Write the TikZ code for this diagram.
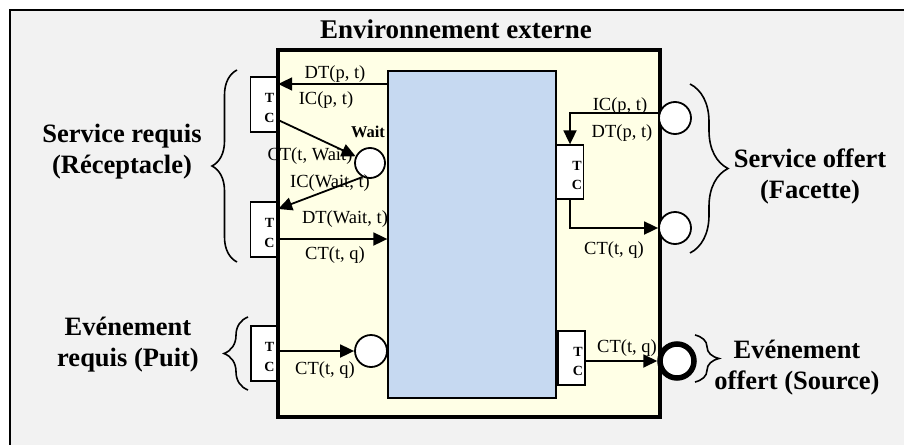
\documentclass[tikz,border=0pt]{standalone}
\usepackage{fontspec}
\setmainfont{Liberation Serif}
\usetikzlibrary{arrows.meta,decorations.pathreplacing}
\definecolor{bggrey}{HTML}{F2F2F2}
\definecolor{compyellow}{HTML}{FFFFE6}
\definecolor{compblue}{HTML}{C6D9F1}
\begin{document}
\begin{tikzpicture}[x=1pt,y=-1pt,
  conn/.style={line width=1.8pt,-{Triangle[length=14pt,width=13pt]}},
  lbl/.style={font=\fontsize{18.5}{20}\selectfont, inner sep=0pt, anchor=base},
  big/.style={font=\fontsize{26.5}{31}\selectfont\bfseries, align=center, inner sep=0pt},
  tcbox/.style={draw, line width=1.3pt, fill=white, minimum width=27pt, minimum height=55pt, inner sep=0pt},
  tctext/.style={font=\fontsize{14}{19.5}\selectfont\bfseries, align=center, inner sep=0pt},
  port/.style={circle, draw, fill=white, line width=1.8pt, inner sep=0pt, minimum size=32pt},
  brc/.style={decorate, decoration={brace, amplitude=#1}, line width=1.6pt},
]
\useasboundingbox (0,0) rectangle (904,444);
\clip (0,0) rectangle (904,444);
% outer environment frame
\draw[line width=2pt, fill=bggrey] (10,10) rectangle (912,452);
\node[font=\fontsize{27}{30}\selectfont\bfseries, inner sep=0pt, anchor=base] (title) at (456,39) {Environnement externe};

% left TC boxes (behind the component border)
\node[tcbox] (tcA) at (264,104.5) {};
\node[tcbox] (tcB) at (264,229.5) {};
\node[tcbox] (tcE) at (264.5,353.5) {};

% component
\node[draw, line width=3.5pt, fill=compyellow, minimum width=382pt, minimum height=367pt, inner sep=0pt] (comp) at (469,233.5) {};
\node[draw, line width=1.3pt, fill=compblue, minimum width=168pt, minimum height=327pt, inner sep=0pt] (blue) at (472,234.5) {};

% right TC boxes
\node[tcbox, minimum height=54pt] (tcD) at (570,172) {};
\node[tcbox, minimum height=54pt] (tcF) at (571.5,358) {};

% TC texts
\node[tctext] (tA) at ([xshift=5.5pt,yshift=-3.5pt]tcA.center) {T\\C};
\node[tctext] (tB) at ([xshift=5.5pt,yshift=-3.5pt]tcB.center) {T\\C};
\node[tctext] (tE) at ([xshift=5pt,yshift=-3.5pt]tcE.center) {T\\C};
\node[tctext] (tD) at ([xshift=7pt,yshift=-3.5pt]tcD.center) {T\\C};
\node[tctext] (tF) at ([xshift=6.5pt,yshift=-3.5pt]tcF.center) {T\\C};

% ports
\node[port, minimum size=30pt] (wait) at (370,163) {};
\node[port] (c1) at (675,118) {};
\node[port] (c2) at (675,228) {};
\node[port] (c3) at (371,351) {};
\node[port, line width=5.5pt, minimum size=34pt] (c4) at (677,361) {};

% connectors
\draw[conn] (blue.west |- 0,84) -- (tcA.east |- 0,84);
\draw[conn] (tcA.east |- 0,120) -- (wait);
\draw[conn] (wait.-118) -- (tcB.east |- 0,209);
\draw[conn] (tcB.east |- 0,239) -- (blue.west |- 0,239);
\draw[conn] (c1.162) -| (tcD.north);
\draw[conn] (tcD.south) |- (c2.west);
\draw[conn] (tcE.east |- c3) -- (c3);
\draw[conn] (tcF.east |- c4) -- (c4);

% connector labels
\node[lbl] (l1) at (335,78) {DT(p, t)};
\node[lbl] (l2) at (326,104) {IC(p, t)};
\node[font=\fontsize{16.5}{18}\selectfont\bfseries, inner sep=0pt, anchor=base] (l3) at (368,137) {Wait};
\node[lbl] (l4) at (310,160) {CT(t, Wait)};
\node[lbl] (l5) at (330,187) {IC(Wait, t)};
\node[lbl] (l6) at (345,223) {DT(Wait, t)};
\node[lbl] (l7) at (335,259) {CT(t, q)};
\node[lbl] (l8) at (620,110) {IC(p, t)};
\node[lbl] (l9) at (622,137) {DT(p, t)};
\node[lbl] (l10) at (614,254) {CT(t, q)};
\node[lbl] (l11) at (325,374) {CT(t, q)};
\node[lbl] (l12) at (627,352) {CT(t, q)};

% braces
\draw[brc=25] (237,262) -- (237,70);
\draw[brc=24] (248,390) -- (248,317);
\draw[brc=38] (690,84) -- (690,253);
\draw[brc=24] (695,335) -- (695,382);

% side texts
\node[big] (sr) at (122,152) {Service requis\\(Réceptacle)};
\node[big] (so) at (810,176) {Service offert\\(Facette)};
\node[big] (er) at (128,345) {Evénement\\requis (Puit)};
\node[big] (eo) at (797,368) {Evénement\\offert (Source)};
\end{tikzpicture}
\end{document}
